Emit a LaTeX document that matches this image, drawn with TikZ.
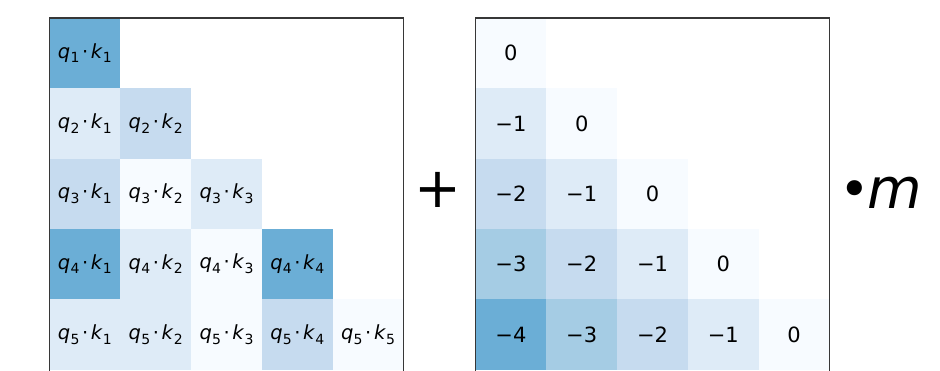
\documentclass[tikz,border=0pt]{standalone}
\usepackage{fontspec}
\setmainfont{DejaVu Sans}
\definecolor{b0}{RGB}{247,251,255}
\definecolor{b1}{RGB}{222,235,247}
\definecolor{b2}{RGB}{198,219,239}
\definecolor{b3}{RGB}{165,204,228}
\definecolor{b4}{RGB}{107,174,214}
\definecolor{frm}{RGB}{55,55,55}
\newcommand{\qkx}[2]{\textit{q}\kern0.2pt\raisebox{-0.25em}{\fontsize{14}{14}\selectfont #1}\kern2.6pt·\kern2.6pt\textit{k}\kern0.2pt\raisebox{-0.25em}{\fontsize{14}{14}\selectfont #2}}
\begin{document}
\begin{tikzpicture}[x=1pt,y=-1pt,
  cell/.style={minimum width=70.8pt,minimum height=70.3pt,inner sep=0pt,outer sep=0pt,anchor=north west,
    font=\fontsize{19.5}{20}\selectfont,text=black},
  num/.style={cell,font=\fontsize{21}{22}\selectfont},
  frame/.style={draw=frm,line width=1.6pt}]
\useasboundingbox (0,0) rectangle (940,370);
\def\lx{49.5}\def\rx{475.5}\def\ty{18}\def\cw{70.8}\def\ch{70.3}
% left matrix: q_i . k_j
\foreach \r/\c/\col in {1/1/b4,
  2/1/b1,2/2/b2,
  3/1/b2,3/2/b0,3/3/b1,
  4/1/b4,4/2/b1,4/3/b0,4/4/b4,
  5/1/b1,5/2/b1,5/3/b0,5/4/b2,5/5/b0}{
  \node[cell,fill=\col] (L\r\c) at ({\lx+(\c-1)*\cw},{\ty+(\r-1)*\ch}) {\qkx{\r}{\c}};
}
% right matrix: relative distances
\foreach \r/\c/\col/\v in {1/1/b0/0,
  2/1/b1/−1,2/2/b0/0,
  3/1/b2/−2,3/2/b1/−1,3/3/b0/0,
  4/1/b3/−3,4/2/b2/−2,4/3/b1/−1,4/4/b0/0,
  5/1/b4/−4,5/2/b3/−3,5/3/b2/−2,5/4/b1/−1,5/5/b0/0}{
  \node[num,fill=\col] (R\r\c) at ({\rx+(\c-1)*\cw},{\ty+(\r-1)*\ch}) {\v};
}
\draw[frame] (\lx,372) -- (\lx,\ty) -- ({\lx+5*\cw},\ty) -- ({\lx+5*\cw},372);
\draw[frame] (\rx,372) -- (\rx,\ty) -- ({\rx+5*\cw},\ty) -- ({\rx+5*\cw},372);
\node[font=\fontsize{56}{56}\selectfont] (plus) at (438,190) {+};
\node[font=\fontsize{56}{56}\selectfont,anchor=west,inner sep=0pt] (bm) at (839,193) {\raisebox{0.02em}{\fontsize{52}{52}\selectfont •}\kern-2pt\textit{m}};
\end{tikzpicture}
\end{document}
